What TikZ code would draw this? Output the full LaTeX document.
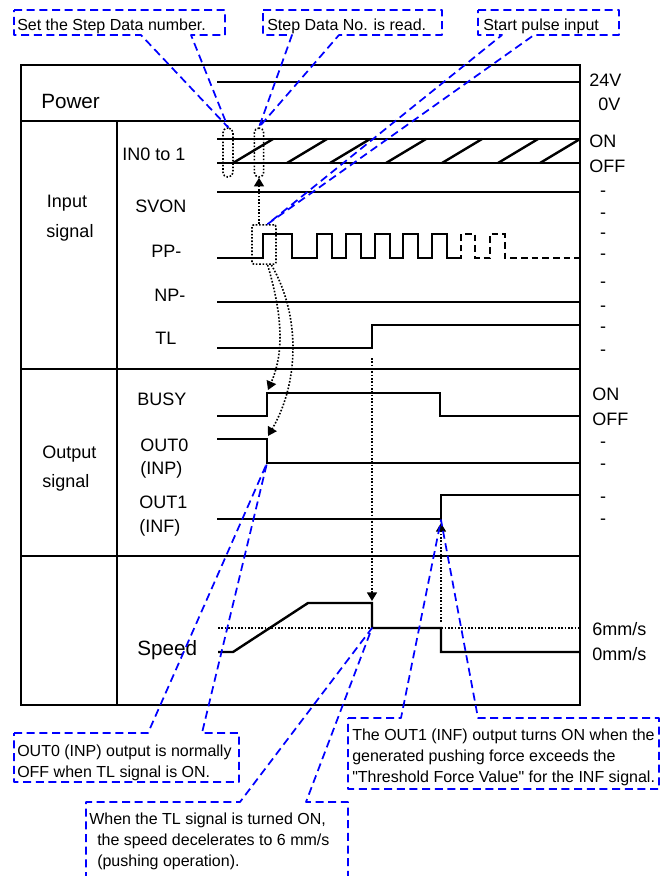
\documentclass[tikz,border=0pt]{standalone}
\usepackage{fontspec}
\newfontfamily\lsans{Liberation Sans}
\usetikzlibrary{arrows.meta}

\begin{document}
\begin{tikzpicture}[x=0.75pt,y=-0.75pt,
  frm/.style={line width=1.4pt},
  sig/.style={line width=1.8pt},
  note/.style={blue,line width=1.3pt,line join=round,dash pattern=on 6pt off 3.5pt},
  dotln/.style={line width=1.2pt,dash pattern=on 1.2pt off 1.3pt},
  arr/.style={-{Triangle[length=6.5pt,width=7.5pt]}},
  lab/.style={inner sep=0,anchor=base west,font=\lsans\fontsize{13.5}{16}\selectfont},
  big/.style={inner sep=0,anchor=base west,font=\lsans\fontsize{15.5}{18}\selectfont},
  txt/.style={inner sep=0,anchor=base west,font=\lsans\fontsize{12}{14}\selectfont},
  dotbox/.style={draw,dotln,rounded corners=3.5pt,inner sep=0}]
\useasboundingbox (0,0) rectangle (670,876);

% table
\draw[frm] (21,65) rectangle (580,705);
\draw[frm] (21,121) -- (580,121);
\draw[frm] (117,121) -- (117,705);
\draw[frm] (21,369) -- (580,369);
\draw[frm] (21,556) -- (580,556);

\node[big] (power) at (41,108) {Power};
\node[lab,anchor=base] (input) at (67,207) {Input};
\node[lab,anchor=base] (insig) at (70,237) {signal};
\node[lab] (outp) at (42,458) {Output};
\node[lab] (outsig) at (42,487) {signal};
\node[lab] (in0) at (122,160) {IN0 to 1};
\node[lab] (svon) at (135,212) {SVON};
\node[lab] (pp) at (151,257) {PP-};
\node[lab] (np) at (154,301) {NP-};
\node[lab] (tl) at (155,344) {TL};
\node[lab] (busy) at (137,405) {BUSY};
\node[lab] (out0) at (140,451) {OUT0};
\node[lab] (inp) at (140,474) {(INP)};
\node[lab] (out1) at (139,508) {OUT1};
\node[lab] (inf) at (139,532) {(INF)};
\node[big] (speed) at (137,655) {Speed};

\node[lab] (v24) at (589,86) {24V};
\node[lab] (v0) at (598,110) {0V};
\node[lab] (on1) at (589,147) {ON};
\node[lab] (off1) at (589,172) {OFF};
\foreach \y [count=\i] in {191,213,233,254,282,306,327,350,442,464,497,519}
  \node[lab,anchor=base] (d\i) at (603,\y+5) {-};
\node[lab] (on2) at (592,400) {ON};
\node[lab] (off2) at (592,425) {OFF};
\node[lab] (mm6) at (592,635) {6mm/s};
\node[lab] (mm0) at (592,660) {0mm/s};

% signals
\draw[sig] (217,82) -- (580,82);
\draw[sig] (217,139) -- (580,139);
\draw[sig] (217,163) -- (580,163);
\foreach \x in {233,287,330,386,442,498,540}
  \draw[sig] (\x,163) -- (\x+40,139);
\draw[sig] (217,192) -- (580,192);
\draw[sig] (217,258) -- (263,258) -- (263,234) -- (292,234) -- (292,258)
  \foreach \s in {317,346,375,403,432} { -- (\s,258) -- (\s,234) -- (\s+15,234) -- (\s+15,258) }
  -- (457,258);
\draw[sig,dash pattern=on 5pt off 3pt] (457,258) -- (461,258) -- (461,234) -- (475,234)
  -- (475,258) -- (490,258) -- (490,234) -- (505,234) -- (505,258) -- (580,258);
\draw[sig] (217,302) -- (580,302);
\draw[sig] (217,348) -- (372,348) -- (372,325) -- (580,325);
\draw[sig] (217,416) -- (267,416) -- (267,393) -- (440,393) -- (440,416) -- (580,416);
\draw[sig] (217,439) -- (267,439) -- (267,463) -- (580,463);
\draw[sig] (217,519) -- (441,519) -- (441,495) -- (580,495);
\draw[sig] (218,652) -- (233,652) -- (308,603) -- (372,603) -- (372,628) -- (441,628)
  -- (441,652) -- (580,652);
\draw[dotln] (218,628) -- (580,628);

% dotted marks
\node[dotbox,minimum width=7.5pt,minimum height=36.75pt] (ell1) at (228,152.5) {};
\node[dotbox,minimum width=7pt,minimum height=36.75pt] (ell2) at (259,152.5) {};
\node[dotbox,minimum width=18pt,minimum height=29.5pt,rounded corners=1.5pt] (ppbox) at (264,244.5) {};

\coordinate (busyup) at (268,390);
\coordinate (out0up) at (268,436);
\coordinate (tldot) at (372,358);
\coordinate (spdrop) at (372,601);
\coordinate (spend) at (441,622);
\coordinate (out1up) at (441,523);
\coordinate (out0fall) at (267,463);
\coordinate (spstep) at (372,628);
\coordinate (out1rise) at (441,520);

\draw[dotln,arr] (ppbox.north -| ell2.south) -- (ell2.south);
\draw[dotln,arr] (ppbox.-80) .. controls (284,320) and (283,355) .. (busyup);
\draw[dotln,arr] (ppbox.-70) .. controls (302,318) and (298,385) .. (out0up);
\draw[dotln,arr] (tldot) -- (spdrop);
\draw[dotln,arr] (spend) -- (out1up);

% callouts
\draw[note] (14,10) -- (225,10) -- (225,35) -- (191,35) -- (ell1.north) -- (141,35) -- (14,35) -- cycle;
\draw[note] (263,10) -- (442,10) -- (442,35) -- (339,35) -- (ell2.north) -- (292,35) -- (263,35) -- cycle;
\draw[note] (478,10) -- (619,10) -- (619,35) -- (534,35) -- (ppbox.80) -- (502,35) -- (478,35) -- cycle;
\draw[note] (14,733) -- (148,733) -- (out0fall) -- (202,733) -- (239,733) -- (239,782) -- (14,782) -- cycle;
\draw[note] (86,880) -- (86,802) -- (240,802) -- (spstep) -- (306,802) -- (348,802) -- (348,880);
\draw[note] (348,718) -- (401,718) -- (out1rise) -- (478,718) -- (659,718) -- (659,789) -- (348,789) -- cycle;

\node[txt] (n1) at (17,30) {Set the Step Data number.};
\node[txt] (n2) at (267,30) {Step Data No. is read.};
\node[txt] (n3) at (483,30) {Start pulse input};
\node[txt] (n4a) at (17,756) {OUT0 (INP) output is normally};
\node[txt] (n4b) at (17,777) {OFF when TL signal is ON.};
\node[txt] (n5a) at (89,824) {When the TL signal is turned ON,};
\node[txt] (n5b) at (97,845) {the speed decelerates to 6 mm/s};
\node[txt] (n5c) at (97,866) {(pushing operation).};
\node[txt] (n6a) at (352,740) {The OUT1 (INF) output turns ON when the};
\node[txt] (n6b) at (352,761) {generated pushing force exceeds the};
\node[txt] (n6c) at (352,782) {"Threshold Force Value" for the INF signal.};
\end{tikzpicture}
\end{document}
